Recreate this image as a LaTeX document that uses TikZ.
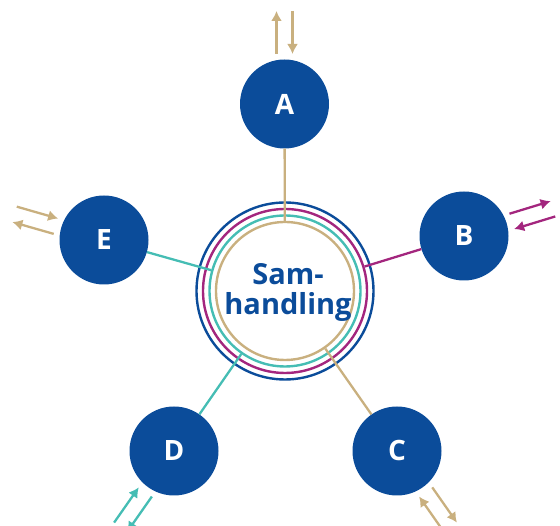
\documentclass[tikz,border=0pt]{standalone}
\usepackage{fontspec}
\setmainfont{Open Sans}
\usepackage{tikz}
\usetikzlibrary{arrows.meta,calc,positioning}

\definecolor{hubblue}{HTML}{0B4C9A}
\definecolor{sand}{HTML}{C9B07F}
\definecolor{plum}{HTML}{A3267E}
\definecolor{aqua}{HTML}{45BDB4}

\begin{document}
\begin{tikzpicture}[x=1pt,y=1pt,>={Latex[length=10pt,width=11pt]}]
	\tikzstyle{party} = [circle, fill=hubblue, text=white, minimum size=89pt, inner sep=0pt, font=\fontsize{28}{30}\selectfont\bfseries]
	\tikzstyle{ring} = [circle, draw, line width=2.4pt, inner sep=0pt]
	\tikzstyle{link} = [line width=2.3pt]
	
	\useasboundingbox (0,0) rectangle (560,526);
	
	\node[ring, hubblue, minimum size=177pt](ringblue) at (285,235) {};
	\node[ring, plum, minimum size=164pt](ringplum) at (285,235) {};
	\node[ring, aqua, minimum size=151pt](ringaqua) at (285,235) {};
	\node[ring, sand, minimum size=138pt](ringsand) at (285,235) {};
	\node[align=center, text=hubblue, font=\fontsize{29}{30}\selectfont\bfseries](hub) at (288,234) {Sam-\\handling};
	
	\node[party](A) at (284.5,422) {A};
	\node[party](B) at (464,290) {B};
	\node[party](C) at (397,75) {C};
	\node[party](D) at (174,75) {D};
	\node[party](E) at (104,286) {E};
	
	\draw[link, sand] (A) -- (ringsand);
	\draw[link, plum] (B) -- (ringplum);
	\draw[link, sand] (C) -- (ringsand);
	\draw[link, aqua] (D) -- (ringaqua);
	\draw[link, aqua] (E) -- (ringaqua);
	
	% arrows in and out of each party
	\foreach \n/\ang/\col in {A/90/sand, B/17/plum, C/305/sand, D/235/aqua, E/164/sand} {
		\begin{scope}[shift={(\n)}, rotate=\ang]
			\coordinate (\n-o1) at (50,8);
			\coordinate (\n-o2) at (93,8);
			\coordinate (\n-i1) at (93,-8);
			\coordinate (\n-i2) at (50,-8);
		\end{scope}
		\draw[->, link, \col] (\n-o1) -- (\n-o2);
		\draw[->, link, \col] (\n-i1) -- (\n-i2);
	}
	
\end{tikzpicture}
\end{document}
